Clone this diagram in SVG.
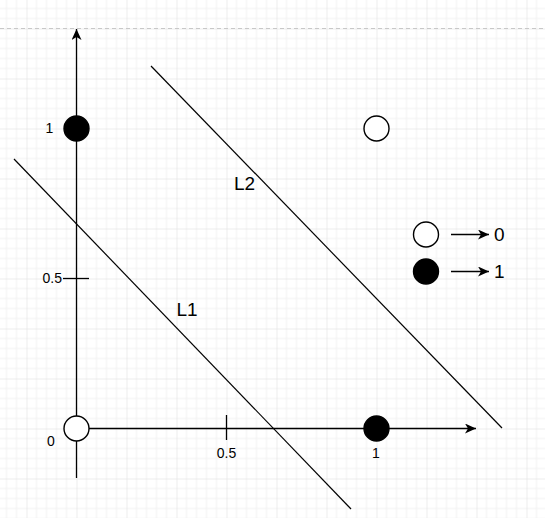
<svg xmlns="http://www.w3.org/2000/svg" width="545" height="518" viewBox="0 0 545 518">
  <style>
    .ax { stroke: #000; stroke-width: 1.3; fill: none; }
    .ln { stroke: #000; stroke-width: 1.2; fill: none; }
    .open { fill: #fff; stroke: #000; stroke-width: 1.4; }
    .full { fill: #000; stroke: #000; stroke-width: 1.4; }
    .tick { font-family: "Liberation Sans", Arial, sans-serif; font-size: 14px; fill: #000; }
    .lbl { font-family: "Liberation Sans", Arial, sans-serif; font-size: 19px; fill: #000; }
  </style>
  <defs>
    <pattern id="grid" x="26.5" y="28.5" width="50" height="50" patternUnits="userSpaceOnUse">
      <path d="M10 0V50M20 0V50M30 0V50M40 0V50M0 10H50M0 20H50M0 30H50M0 40H50" stroke="#f1f1f1" stroke-width="1" fill="none"/>
      <path d="M0 0V50M0 0H50" stroke="#dcdcdc" stroke-width="1" fill="none"/>
    </pattern>
    <marker id="arr" markerWidth="12" markerHeight="10" refX="11" refY="5" orient="auto" markerUnits="userSpaceOnUse">
      <path d="M0,0 L11,5 L0,10 L3,5 Z" fill="#000"/>
    </marker>
  </defs>
  <rect width="545" height="518" fill="#fff"/>
  <rect width="545" height="518" fill="url(#grid)"/>
  <line x1="0" y1="28.5" x2="545" y2="28.5" stroke="#c8c8c8" stroke-width="1" stroke-dasharray="4 3"/>

  <g id="connectors">
    <line id="y-axis" class="ax" x1="76.5" y1="478" x2="76.5" y2="29" marker-end="url(#arr)"/>
    <line id="x-axis" class="ax" x1="89" y1="428.5" x2="476" y2="428.5" marker-end="url(#arr)"/>
    <line id="tick-x" class="ax" x1="226.5" y1="415" x2="226.5" y2="440"/>
    <line id="tick-y" class="ax" x1="63" y1="278.5" x2="89" y2="278.5"/>
    <line id="L1-line" class="ln" x1="14" y1="159" x2="351" y2="509"/>
    <line id="L2-line" class="ln" x1="151" y1="66" x2="502" y2="428"/>
    <line id="legend-arrow-0" class="ax" x1="451" y1="234.5" x2="489" y2="234.5" marker-end="url(#arr)"/>
    <line id="legend-arrow-1" class="ax" x1="451" y1="271.5" x2="489" y2="271.5" marker-end="url(#arr)"/>
  </g>

  <g id="point-01"><circle class="full" cx="76.5" cy="128.5" r="12.5"/></g>
  <g id="point-00"><circle class="open" cx="76.5" cy="428.5" r="12.5"/></g>
  <g id="point-10"><circle class="full" cx="376.5" cy="428.5" r="12.5"/></g>
  <g id="point-11"><circle class="open" cx="376.5" cy="128.5" r="12.5"/></g>
  <g id="legend-open"><circle class="open" cx="426" cy="234.5" r="12.5"/></g>
  <g id="legend-full"><circle class="full" cx="426" cy="271.5" r="12.5"/></g>

  <g id="labels">
    <text class="tick" x="49.5" y="133" text-anchor="middle">1</text>
    <text class="tick" x="62" y="283" text-anchor="end">0.5</text>
    <text class="tick" x="51" y="446" text-anchor="middle">0</text>
    <text class="tick" x="226.5" y="458" text-anchor="middle">0.5</text>
    <text class="tick" x="376" y="458" text-anchor="middle">1</text>
    <text class="lbl" x="244.5" y="190" text-anchor="middle">L2</text>
    <text class="lbl" x="187" y="316" text-anchor="middle">L1</text>
    <text class="lbl" x="494" y="241">0</text>
    <text class="lbl" x="494" y="278">1</text>
  </g>
</svg>
